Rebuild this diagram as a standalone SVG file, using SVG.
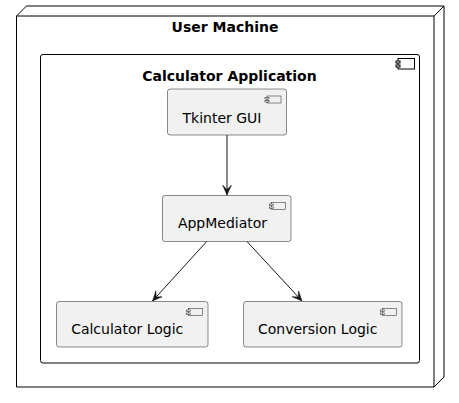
<svg xmlns="http://www.w3.org/2000/svg" width="459" height="403" viewBox="0 0 459 403">
<style>
.t{font-family:"DejaVu Sans",sans-serif;font-size:14px;fill:#000;text-anchor:middle}
.b{font-weight:bold}
.leaf{fill:#F1F1F1;stroke:#181818;stroke-width:0.5}
.ic{fill:#F1F1F1;stroke:#181818;stroke-width:0.5}
.icb{fill:#fff;stroke:#000;stroke-width:1}
.edge{stroke:#181818;stroke-width:1;fill:none}
</style>
<defs>
<marker id="ah" viewBox="0 0 10 10" refX="10" refY="5" markerWidth="10" markerHeight="10" markerUnits="userSpaceOnUse" orient="auto">
<polygon points="0,0.5 10,5 0,9.5 4.5,5" fill="#181818" stroke="#181818" stroke-width="0.5"/>
</marker>
</defs>
<g id="user-machine">
<polygon points="16.5,16 26.5,6 444,6 444,377 434,387 16.5,387" fill="#fff" stroke="#000" stroke-width="1"/>
<polyline points="16.5,16 434,16 444,6" fill="none" stroke="#000" stroke-width="1"/>
<line x1="434" y1="16" x2="434" y2="387" stroke="#000" stroke-width="1"/>
<text class="t b" x="225" y="32">User Machine</text>
</g>
<g id="calculator-application">
<rect x="40.5" y="54.5" width="379" height="308.5" rx="2.5" fill="#fff" stroke="#000" stroke-width="1"/>
<rect class="icb" x="398" y="58.5" width="16.5" height="10.5"/>
<rect class="icb" x="396" y="61" width="4" height="2"/>
<rect class="icb" x="396" y="65" width="4" height="2"/>
<text class="t b" x="229.5" y="80.5">Calculator Application</text>
</g>
<g id="tkinter-gui">
<rect class="leaf" x="167.5" y="89" width="119" height="46" rx="2.5"/>
<rect class="ic" x="267" y="96" width="14" height="7"/>
<rect class="ic" x="265" y="97.5" width="4" height="1.5"/>
<rect class="ic" x="265" y="100.5" width="4" height="1.5"/>
<text class="t" x="222" y="123">Tkinter GUI</text>
</g>
<g id="app-mediator">
<rect class="leaf" x="162.5" y="195.5" width="128.5" height="46" rx="2.5"/>
<rect class="ic" x="271.5" y="202.5" width="14" height="7"/>
<rect class="ic" x="269.5" y="204" width="4" height="1.5"/>
<rect class="ic" x="269.5" y="207" width="4" height="1.5"/>
<text class="t" x="222.5" y="228">AppMediator</text>
</g>
<g id="calculator-logic">
<rect class="leaf" x="56.5" y="301.5" width="151.5" height="45.5" rx="2.5"/>
<rect class="ic" x="188.5" y="308.5" width="14" height="7"/>
<rect class="ic" x="186.5" y="310" width="4" height="1.5"/>
<rect class="ic" x="186.5" y="313" width="4" height="1.5"/>
<text class="t" x="127.2" y="334">Calculator Logic</text>
</g>
<g id="conversion-logic">
<rect class="leaf" x="243.5" y="301.5" width="158.5" height="45.5" rx="2.5"/>
<rect class="ic" x="382.5" y="308.5" width="14" height="7"/>
<rect class="ic" x="380.5" y="310" width="4" height="1.5"/>
<rect class="ic" x="380.5" y="313" width="4" height="1.5"/>
<text class="t" x="317.7" y="334">Conversion Logic</text>
</g>
<g id="connectors">
<line class="edge" x1="227" y1="135" x2="227" y2="195" marker-end="url(#ah)"/>
<line class="edge" x1="206.7" y1="241.5" x2="152.5" y2="301" marker-end="url(#ah)"/>
<line class="edge" x1="247" y1="241.5" x2="302" y2="301" marker-end="url(#ah)"/>
</g>
</svg>
